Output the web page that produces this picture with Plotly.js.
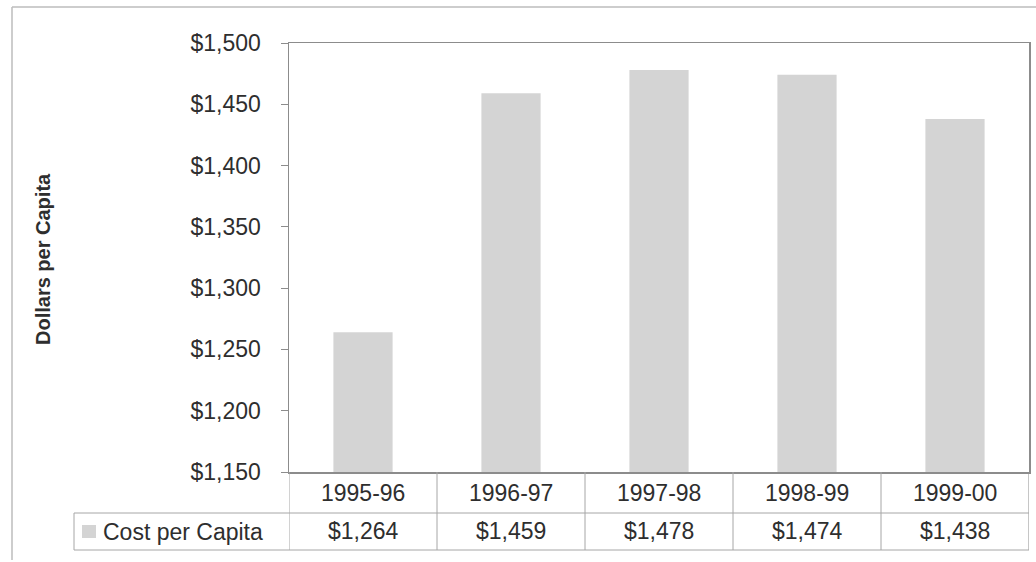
<!DOCTYPE html>
<html>
<head>
<meta charset="utf-8">
<script src="https://cdn.plot.ly/plotly-3.0.1.min.js"></script>
<style>
html,body{margin:0;padding:0;background:#fff;}
#chart{width:1036px;height:562px;}
</style>
</head>
<body>
<div id="chart"></div>
<script>
// Data
const categories = ["1995-96", "1996-97", "1997-98", "1998-99", "1999-00"];
const costPerCapita = [1264, 1459, 1478, 1474, 1438];
const seriesName = "Cost per Capita";
const yTitle = "Dollars per Capita";

const W = 1036, H = 562;
const L = 289, R = 1029, T = 43, B = 472;
const pw = R - L, ph = B - T;
const py = pix => (B - pix) / ph;      // pixel y -> paper y
const px = pix => (pix - L) / pw;      // pixel x -> paper x

const fmt = v => "$" + v.toLocaleString("en-US");
const textColor = "#2e2e2e";
const gridLine = "#8c8c8c";
const tableLine = "#a6a6a6";
const font = "Liberation Sans, Arial, sans-serif";
const fs = 23;

const shapes = [];
const annotations = [];

const rowTop = py(B), rowMid = py(513), rowBot = py(550);

// Table vertical lines at category boundaries
for (let i = 0; i <= categories.length; i++) {
  shapes.push({type: "line", xref: "x", yref: "paper", x0: i - 0.5, x1: i - 0.5,
    y0: rowTop, y1: rowBot, line: {color: i === categories.length ? gridLine : tableLine, width: 1}});
}
// Horizontal table lines
shapes.push({type: "line", xref: "paper", yref: "paper", x0: px(74), x1: 1, y0: rowMid, y1: rowMid,
  line: {color: tableLine, width: 1}});
shapes.push({type: "line", xref: "paper", yref: "paper", x0: px(74), x1: 1, y0: rowBot, y1: rowBot,
  line: {color: tableLine, width: 1}});
// Legend cell left edge
shapes.push({type: "line", xref: "paper", yref: "paper", x0: px(74), x1: px(74), y0: rowMid, y1: rowBot,
  line: {color: tableLine, width: 1}});
// Legend key square
shapes.push({type: "rect", xref: "paper", yref: "paper", x0: px(82), x1: px(96), y0: py(538), y1: py(525),
  fillcolor: "#d4d4d4", line: {width: 0}});
// Outer chart border (left, top)
shapes.push({type: "line", xref: "paper", yref: "paper", x0: px(12), x1: px(12), y0: py(7), y1: py(560),
  line: {color: "#bdbdbd", width: 1.5}});
shapes.push({type: "line", xref: "paper", yref: "paper", x0: px(12), x1: px(1036), y0: py(7), y1: py(7),
  line: {color: "#bdbdbd", width: 1.5}});

// Table text
categories.forEach((c, i) => {
  annotations.push({x: c, xref: "x", y: py(493), yref: "paper", text: c, showarrow: false,
    xanchor: "center", yanchor: "middle", font: {family: font, size: fs, color: textColor}});
  annotations.push({x: c, xref: "x", y: py(531), yref: "paper", text: fmt(costPerCapita[i]), showarrow: false,
    xanchor: "center", yanchor: "middle", font: {family: font, size: fs, color: textColor}});
});
annotations.push({x: px(101), xref: "paper", y: py(532), yref: "paper", text: seriesName, showarrow: false,
  xanchor: "left", yanchor: "middle", font: {family: font, size: fs, color: textColor}});
// Y axis title
annotations.push({x: px(43), xref: "paper", y: py(259), yref: "paper", text: "<b>" + yTitle + "</b>",
  showarrow: false, textangle: -90, xanchor: "center", yanchor: "middle",
  font: {family: font, size: 20, color: textColor}});

const trace = {
  type: "bar", x: categories, y: costPerCapita, name: seriesName,
  marker: {color: "#d4d4d4", line: {width: 0}}, width: 0.4, hoverinfo: "skip"
};

const layout = {
  width: W, height: H,
  margin: {l: L, r: W - R, t: T, b: H - B, pad: 0},
  paper_bgcolor: "#ffffff", plot_bgcolor: "#ffffff",
  showlegend: false,
  xaxis: {type: "category", range: [-0.5, categories.length - 0.5], showticklabels: false,
    ticks: "", showgrid: false, zeroline: false, showline: true, linecolor: gridLine, linewidth: 1.5,
    mirror: true, fixedrange: true},
  yaxis: {range: [1150, 1500], dtick: 50, tick0: 1150, tickprefix: "$", tickformat: ",d",
    ticks: "outside", ticklen: 7, tickcolor: gridLine, tickwidth: 1,
    showgrid: false, zeroline: false, showline: true, linecolor: gridLine, linewidth: 1.5, mirror: true,
    tickfont: {family: font, size: fs, color: textColor}, ticklabelstandoff: 15, fixedrange: true},
  shapes: shapes,
  annotations: annotations
};

Plotly.newPlot("chart", [trace], layout, {displayModeBar: false, staticPlot: true});
</script>
</body>
</html>
